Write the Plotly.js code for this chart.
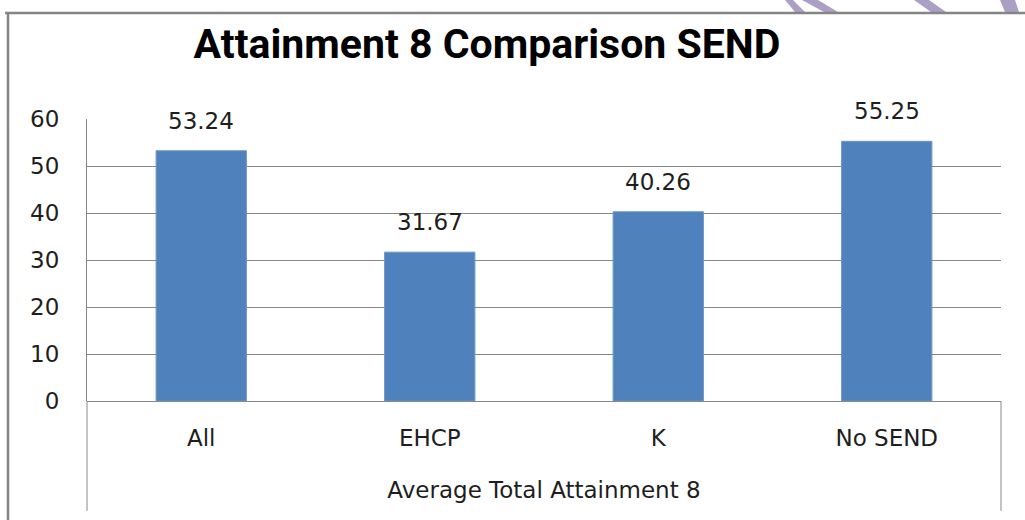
<!DOCTYPE html>
<html>
<head>
<meta charset="utf-8">
<script src="https://cdn.plot.ly/plotly-3.0.1.min.js"></script>
<style>
  html, body { margin: 0; padding: 0; background: #ffffff; }
  #chart { width: 1025px; height: 520px; }
</style>
</head>
<body>
<div id="chart"></div>
<script>
// ---- data ----
const chartTitle = "Attainment 8 Comparison SEND";
const categories = ["All", "EHCP", "K", "No SEND"];
const attainment8 = [53.24, 31.67, 40.26, 55.25];
const valueLabels = ["53.24", "31.67", "40.26", "55.25"];
const xAxisTitle = "Average Total Attainment 8";
const yTickValues = [0, 10, 20, 30, 40, 50, 60];

// ---- layout helpers (pixel -> paper) ----
const W = 1025, H = 520;
const M = { l: 87, r: 24, t: 119, b: 119 };
const PW = W - M.l - M.r, PH = H - M.t - M.b;
const px = x => (x - M.l) / PW;
const py = y => (H - M.b - y) / PH;

const gridCol = "#888888";
const txtCol = "#1e1e1e";
const labelFont = { family: "DejaVu Sans, sans-serif", size: 23, color: txtCol };

const strokeCol = "#ab9fc4";
function poly(pts) {
  const d = pts.map((p, i) => (i ? "L" : "M") + px(p[0]).toFixed(5) + "," + py(p[1]).toFixed(5)).join(" ") + " Z";
  return { type: "path", xref: "paper", yref: "paper", path: d,
           fillcolor: strokeCol, line: { width: 0 } };
}
function frameLine(x0, y0, x1, y1, w, c) {
  return { type: "line", xref: "paper", yref: "paper",
           x0: px(x0), y0: py(y0), x1: px(x1), y1: py(y1),
           line: { color: c, width: w } };
}

const trace = {
  type: "bar",
  x: categories,
  y: attainment8,
  marker: { color: "#4f81bd", line: { color: "#6b95c8", width: 1 } },
  hoverinfo: "x+y"
};

const annotations = categories.map((c, i) => ({
  x: c, y: attainment8[i], xref: "x", yref: "y",
  text: valueLabels[i], showarrow: false,
  yanchor: "bottom", yshift: 15,
  font: labelFont
}));

const layout = {
  width: W, height: H,
  margin: M,
  paper_bgcolor: "#ffffff",
  plot_bgcolor: "#ffffff",
  showlegend: false,
  bargap: 0.605,
  title: {
    text: "<b>" + chartTitle + "</b>",
    font: { family: "Roboto, sans-serif", size: 41, color: "#000000" },
    x: 487 / W, xanchor: "center", xref: "container",
    y: 1 - 44 / H, yanchor: "middle", yref: "container"
  },
  xaxis: {
    type: "category",
    showgrid: false,
    showline: false,
    zeroline: false,
    ticks: "",
    tickfont: labelFont,
    ticklabelstandoff: 21,
    title: { text: xAxisTitle, font: labelFont, standoff: 31 }
  },
  yaxis: {
    range: [0, 60],
    tickvals: yTickValues,
    ticktext: yTickValues.map(String),
    showgrid: true,
    gridcolor: gridCol,
    gridwidth: 1,
    zeroline: true,
    zerolinecolor: gridCol,
    zerolinewidth: 1,
    showline: true,
    linecolor: gridCol,
    linewidth: 1,
    ticks: "",
    ticklabelstandoff: 22,
    tickfont: labelFont
  },
  annotations: annotations,
  shapes: [
    // watermark strokes at the top right
    poly([[785, 0], [793, 0], [805, 12], [795, 12]]),
    poly([[802, 0], [818, 0], [838, 12], [824, 12]]),
    poly([[914, 0], [929, 0], [946, 12], [931, 12]]),
    poly([[1000, 0], [1015, 0], [1019, 12], [1005, 12]]),
    // outer chart frame
    frameLine(5, 13, 1030, 13, 2.5, "#858585"),
    frameLine(8, 12, 8, 530, 2.5, "#858585"),
    // category axis box extensions
    frameLine(87, 401, 87, 511, 1, gridCol),
    frameLine(1001, 401, 1001, 511, 1, gridCol)
  ]
};

Plotly.newPlot("chart", [trace], layout, { displayModeBar: false, staticPlot: true });
</script>
</body>
</html>
